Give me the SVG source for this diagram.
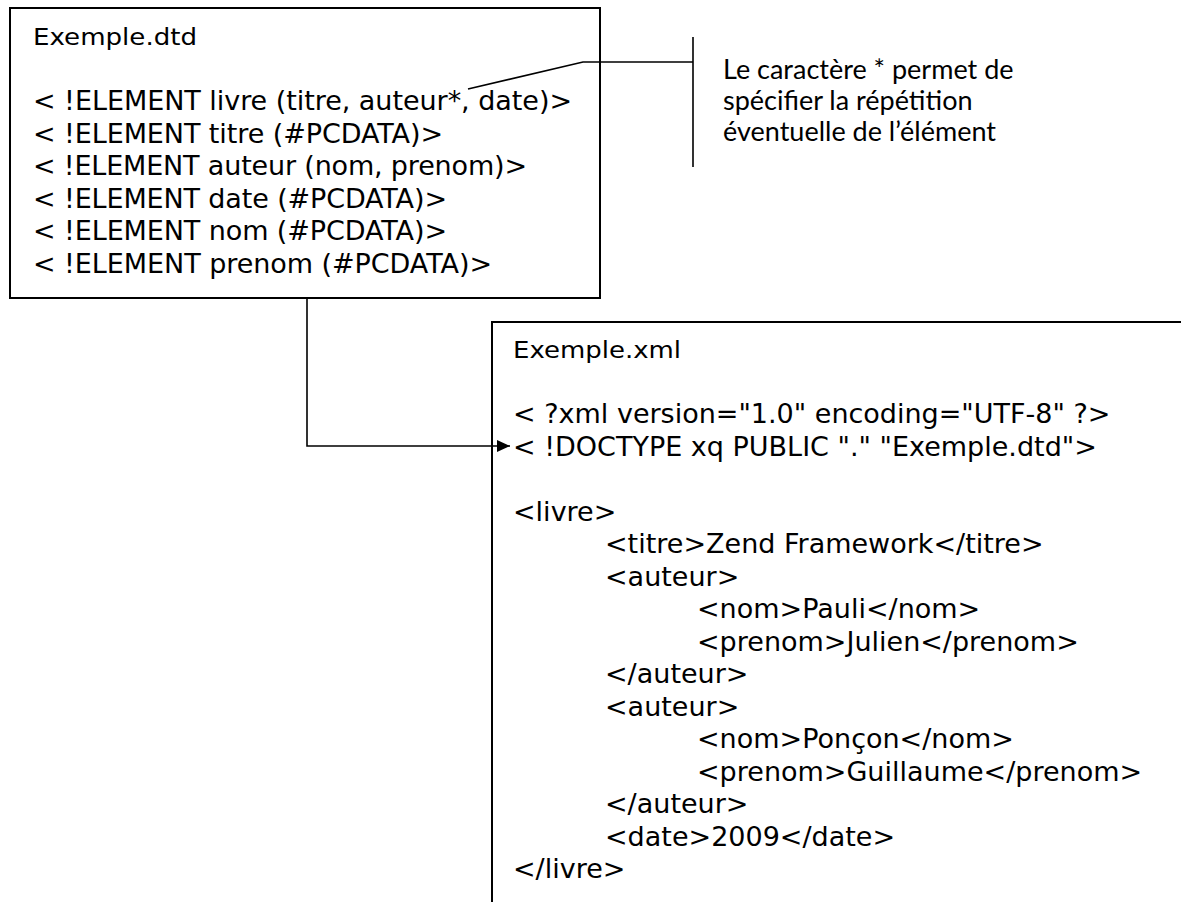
<svg xmlns="http://www.w3.org/2000/svg" width="1181" height="902" viewBox="0 0 1181 902">
<style>
.box{fill:#fff;stroke:#000;stroke-width:2}
.ln{fill:none;stroke:#000;stroke-width:1.6}
.code{font-family:"DejaVu Sans","Liberation Sans",sans-serif;font-size:27px;fill:#000}
.head{font-family:"DejaVu Sans","Liberation Sans",sans-serif;font-size:23px;fill:#000}
.note{font-family:Lato,"Open Sans",sans-serif;font-size:27px;fill:#000}
</style>
<defs>
<marker id="arr" markerUnits="userSpaceOnUse" markerWidth="14" markerHeight="14" refX="13" refY="6" orient="auto">
<path d="M0,0 L13,6 L0,12 Z" fill="#000"/>
</marker>
</defs>
<g id="dtd">
<rect class="box" x="10" y="8" width="590" height="290"/>
<text class="head" x="33" y="45" textLength="164" lengthAdjust="spacingAndGlyphs">Exemple.dtd</text>
<text class="code" x="33" y="110" textLength="539">&lt; !ELEMENT livre (titre, auteur*, date)&gt;</text>
<text class="code" x="33" y="142.5" textLength="410">&lt; !ELEMENT titre (#PCDATA)&gt;</text>
<text class="code" x="33" y="175" textLength="494">&lt; !ELEMENT auteur (nom, prenom)&gt;</text>
<text class="code" x="33" y="207.5" textLength="414">&lt; !ELEMENT date (#PCDATA)&gt;</text>
<text class="code" x="33" y="240" textLength="414">&lt; !ELEMENT nom (#PCDATA)&gt;</text>
<text class="code" x="33" y="272.5" textLength="459">&lt; !ELEMENT prenom (#PCDATA)&gt;</text>
</g>
<g id="callout">
<text class="note" x="723" y="79">Le caractère * permet de</text>
<text class="note" x="723" y="110">spécifier la répétition</text>
<text class="note" x="723" y="141">éventuelle de l’élément</text>
</g>
<g id="xml">
<rect class="box" x="492" y="322" width="700" height="600"/>
<text class="head" x="513" y="358" textLength="168" lengthAdjust="spacingAndGlyphs">Exemple.xml</text>
<text class="code" x="513" y="423">&lt; ?xml version="1.0" encoding="UTF-8" ?&gt;</text>
<text class="code" x="513" y="455.5">&lt; !DOCTYPE xq PUBLIC "." "Exemple.dtd"&gt;</text>
<text class="code" x="513" y="520.5">&lt;livre&gt;</text>
<text class="code" x="605" y="553">&lt;titre&gt;Zend Framework&lt;/titre&gt;</text>
<text class="code" x="605" y="585.5">&lt;auteur&gt;</text>
<text class="code" x="697" y="618">&lt;nom&gt;Pauli&lt;/nom&gt;</text>
<text class="code" x="697" y="650.5">&lt;prenom&gt;Julien&lt;/prenom&gt;</text>
<text class="code" x="605" y="683">&lt;/auteur&gt;</text>
<text class="code" x="605" y="715.5">&lt;auteur&gt;</text>
<text class="code" x="697" y="748">&lt;nom&gt;Ponçon&lt;/nom&gt;</text>
<text class="code" x="697" y="780.5">&lt;prenom&gt;Guillaume&lt;/prenom&gt;</text>
<text class="code" x="605" y="813">&lt;/auteur&gt;</text>
<text class="code" x="605" y="845.5">&lt;date&gt;2009&lt;/date&gt;</text>
<text class="code" x="513" y="878">&lt;/livre&gt;</text>
</g>
<g id="connectors">
<path class="ln" d="M468,89 L583,62 H693 M693,37 V167"/>
<path class="ln" d="M307,298 V446 H510" marker-end="url(#arr)"/>
</g>
</svg>
